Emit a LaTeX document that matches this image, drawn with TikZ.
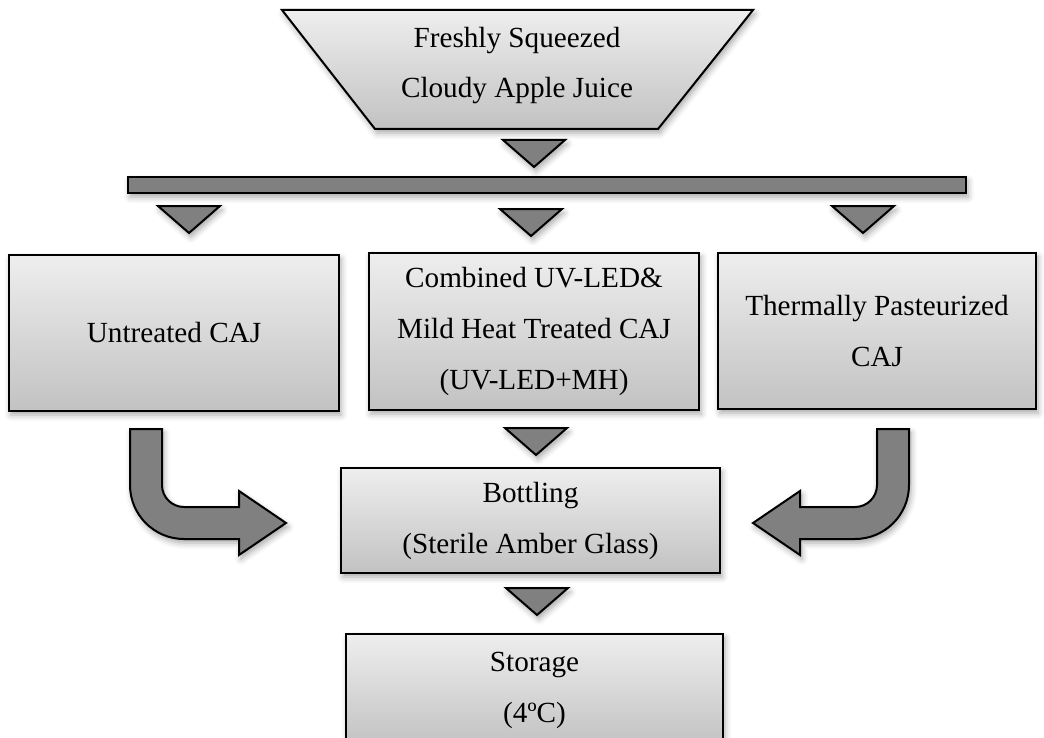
\documentclass[tikz,border=0pt]{standalone}
\usepackage{fontspec}
\setmainfont{Liberation Serif}
\usetikzlibrary{shadows.blur}

\definecolor{boxtop}{HTML}{EEEEEE}
\definecolor{boxbot}{HTML}{C2C2C2}
\definecolor{arrowgray}{HTML}{808080}

\begin{document}
\begin{tikzpicture}[x=0.5pt,y=-0.5pt,
    softshadow/.style={blur shadow={shadow xshift=1pt,shadow yshift=-2pt,shadow blur radius=3pt,shadow opacity=35}},
    box/.style={rectangle,draw=black,line width=1pt,top color=boxtop,bottom color=boxbot,softshadow},
    tri/.style={draw=black,line width=1pt,fill=arrowgray,softshadow}]
    \useasboundingbox (0,0) rectangle (1044,738);
    \clip (0,0) rectangle (1044,738);

    % source
    \path[box] (282,10) -- (753,10) -- (658,129) -- (375,129) -- cycle;
    \node[font=\fontsize{14.6pt}{25pt}\selectfont,align=center] (juice) at (517,66) {Freshly Squeezed\\Cloudy Apple Juice};

    % splitter bar
    \path[tri] (128,177) rectangle (966,193);

    % down arrows
    \foreach \x/\y in {534/140, 189/206, 531/209, 863/206, 536/428, 537/588}
        \path[tri] (\x-31,\y) -- (\x+31,\y) -- (\x,\y+27) -- cycle;

    \begin{scope}[every node/.style={box,font=\fontsize{14.6pt}{25.5pt}\selectfont,align=center,inner sep=2pt}]
        \node[minimum width=165pt,minimum height=78pt] (untreated) at (174,333) {Untreated CAJ};
        \node[minimum width=165pt,minimum height=78.5pt] (combined) at (534,331.5) {Combined UV-LED\&\\Mild Heat Treated CAJ\\(UV-LED+MH)};
        \node[minimum width=159pt,minimum height=78pt] (thermal) at (877,331) {Thermally Pasteurized\\CAJ};
        \node[minimum width=189.5pt,minimum height=52.5pt] (bottling) at (530.5,520.5) {Bottling\\(Sterile Amber Glass)};
        \node[minimum width=188.5pt,minimum height=56pt] (storage) at (534.5,690) {Storage\\(4ºC)};
    \end{scope}

    % bent arrows into bottling
    \path[tri] (130,429) -- (162,429) -- (162,485) arc[start angle=180,end angle=90,radius=22]
        -- (239,507) -- (239,491) -- (286,523) -- (239,555) -- (239,539) -- (184,539)
        arc[start angle=90,end angle=180,radius=54] -- cycle;
    \path[tri] (909,429) -- (877,429) -- (877,485) arc[start angle=0,end angle=90,radius=22]
        -- (800,507) -- (800,491) -- (753,523) -- (800,555) -- (800,539) -- (855,539)
        arc[start angle=90,end angle=0,radius=54] -- cycle;
\end{tikzpicture}
\end{document}
